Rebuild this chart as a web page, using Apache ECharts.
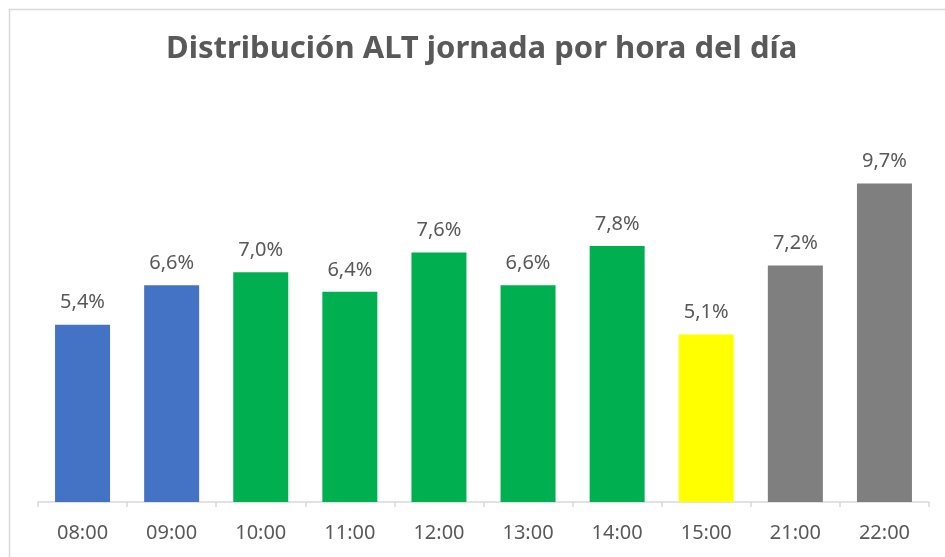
<!DOCTYPE html>
<html>
<head>
<meta charset="utf-8">
<script src="https://cdn.jsdelivr.net/npm/echarts@6/dist/echarts.min.js"></script>
<style>
	html,body{margin:0;padding:0;background:#fff;}
	#chart{width:945px;height:557px;}
</style>
</head>
<body>
<div id="chart"></div>
<script>
	// horas y porcentajes
	var horas = ['08:00','09:00','10:00','11:00','12:00','13:00','14:00','15:00','21:00','22:00'];
	var valores = [5.4,6.6,7.0,6.4,7.6,6.6,7.8,5.1,7.2,9.7];
	var colores = ['#4472C4','#4472C4','#00B050','#00B050','#00B050','#00B050','#00B050','#FFFF00','#7F7F7F','#7F7F7F'];

	var chart = echarts.init(document.getElementById('chart'));
	chart.setOption({
		animation:false,
		title:{
			text:'Distribución ALT jornada por hora del día',
			left:166,
			top:34,
			padding:0,
			textStyle:{
				fontFamily:'Noto Sans',
				fontSize:31,
				fontWeight:'bold',
				color:'#595959'
			}
		},
		graphic:[{
			type:'rect',
			shape:{x:9.5,y:9.5,width:960,height:600},
			style:{fill:'none',stroke:'#D9D9D9',lineWidth:1.5}
		}],
		grid:{left:38,right:16,top:108,bottom:55},
		xAxis:{
			type:'category',
			data:horas,
			axisLine:{lineStyle:{color:'#D9D9D9',width:1.5}},
			axisTick:{show:true,length:5,lineStyle:{color:'#D9D9D9',width:1.5}},
			axisLabel:{
				fontFamily:'Noto Sans',
				fontSize:20,
				color:'#595959',
				margin:21
			}
		},
		yAxis:{
			type:'value',
			min:0,
			max:12,
			show:false
		},
		series:[{
			type:'bar',
			barWidth:55,
			data:valores.map(function(v,i){
				return {value:v,itemStyle:{color:colores[i]}};
			}),
			label:{
				show:true,
				position:'top',
				distance:12,
				fontFamily:'Noto Sans',
				fontSize:20,
				color:'#595959',
				formatter:function(p){
					return p.value.toFixed(1).replace('.',',') + '%';
				}
			}
		}]
	});
</script>
</body>
</html>
